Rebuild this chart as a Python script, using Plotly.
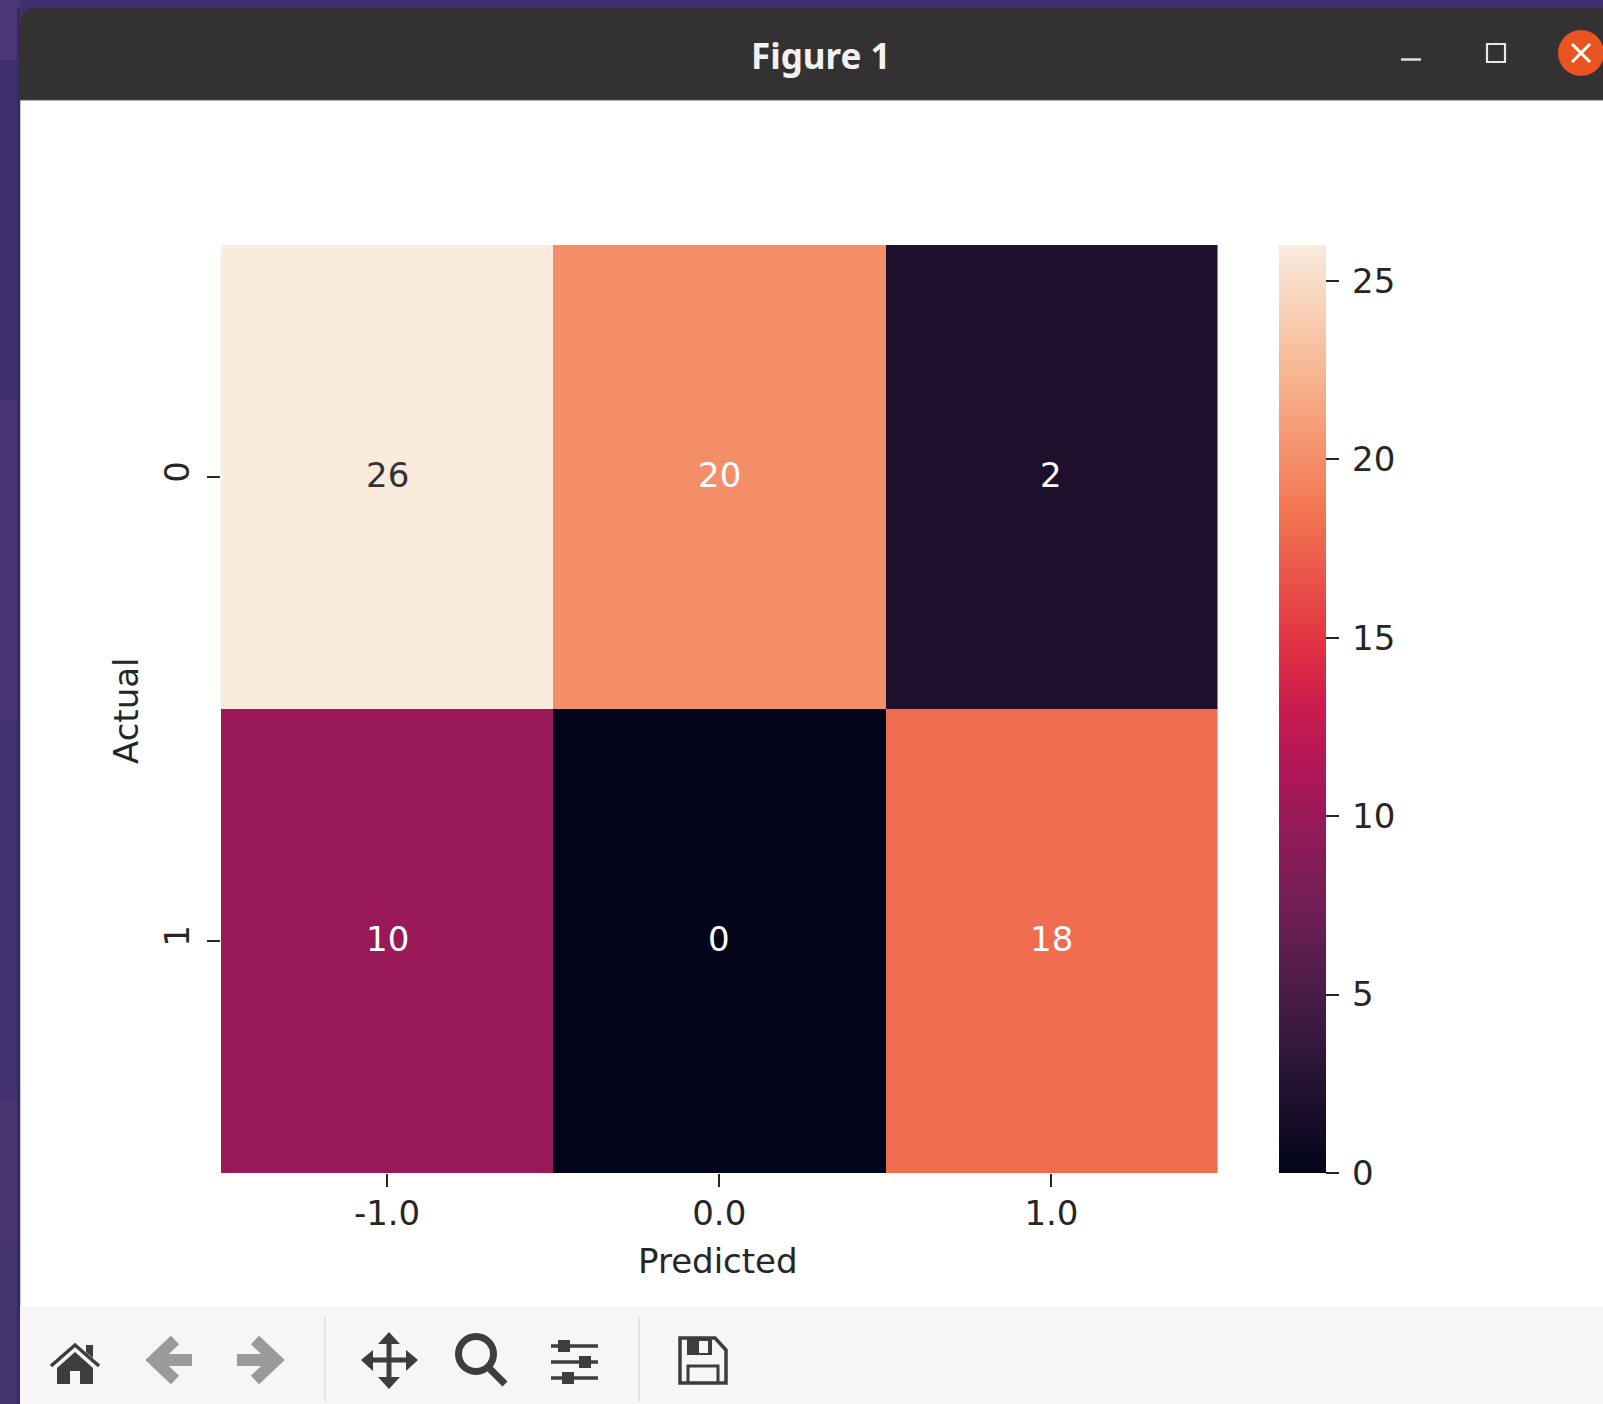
import plotly.graph_objects as go

# ---- data ----
predicted_values = [-1.0, 0.0, 1.0]
predicted_labels = ["-1.0", "0.0", "1.0"]
actual_values = [0, 1]
actual_labels = ["0", "1"]
row_actual_0 = [26, 20, 2]
row_actual_1 = [10, 0, 18]
colorbar_ticks = [0, 5, 10, 15, 20, 25]
rocket_stops = [
    [0.0, "#03051a"], [0.143, "#35193e"], [0.286, "#701f57"],
    [0.429, "#ad1759"], [0.5, "#cb1b4f"], [0.571, "#e13342"], [0.714, "#f37651"],
    [0.857, "#f6b48f"], [1.0, "#faebdd"],
]

W, H = 1603, 1404
FONT = "DejaVu Sans"
INK = "#262626"


def px(x):
    return x / W


def py(y):
    return 1 - y / H


def rect(x0, y0, x1, y1, fill, **kw):
    return dict(type="rect", xref="paper", yref="paper", x0=px(x0), x1=px(x1),
                y0=py(y0), y1=py(y1), fillcolor=fill, line_width=0, layer="below", **kw)


def path(points, fill=None, line=None, width=0, close=True):
    """points: list of (cmd, x, y) in window pixels"""
    d = ""
    for cmd, x, y in points:
        d += f"{cmd}{px(x):.5f},{py(y):.5f} "
    if close:
        d += "Z"
    s = dict(type="path", xref="paper", yref="paper", path=d, layer="above")
    s["fillcolor"] = fill if fill else "rgba(0,0,0,0)"
    s["line"] = dict(color=line if line else "rgba(0,0,0,0)", width=width)
    return s


def poly(pts, **kw):
    return path([("M" if i == 0 else "L", x, y) for i, (x, y) in enumerate(pts)], **kw)


def seg(x0, y0, x1, y1, color, width):
    return dict(type="line", xref="paper", yref="paper", x0=px(x0), x1=px(x1), y0=py(y0), y1=py(y1),
                line=dict(color=color, width=width), layer="above")


def circ(cx, cy, r, fill=None, line=None, width=0):
    return dict(type="circle", xref="paper", yref="paper", x0=px(cx - r), x1=px(cx + r),
                y0=py(cy + r), y1=py(cy - r),
                fillcolor=fill if fill else "rgba(0,0,0,0)",
                line=dict(color=line if line else "rgba(0,0,0,0)", width=width), layer="above")


def box(x0, y0, x1, y1, fill):
    return dict(type="rect", xref="paper", yref="paper", x0=px(x0), x1=px(x1), y0=py(y1), y1=py(y0),
                fillcolor=fill, line_width=0, layer="above")


DARK = "#3d3d3d"
GREY = "#9a9a9a"
SEP = "#dcdcdc"
shapes = [
    rect(0, 0, W, 8, "#40306f"),
    rect(0, 0, 20, 60, "#4a3678"),
    rect(0, 60, 20, 400, "#3e2f6d"),
    rect(0, 400, 20, 720, "#4a3577"),
    rect(0, 720, 20, 1100, "#423170"),
    rect(0, 1100, 20, 1240, "#483572"),
    rect(0, 1240, 20, H, "#43336f"),
    rect(17, 8, 20, H, "#39295f"),
    # window body
    rect(20, 100, W, 1306, "#ffffff"),
    rect(20, 1306, W, H, "#f6f6f6"),
    rect(20, 100, 21, 1306, "#c9c7d0"),
]
# title bar with rounded corner
titlebar = path([("M", 20, 100), ("L", 20, 25), ("Q", 20, 8), ("", 37, 8), ("L", W, 8), ("L", W, 100)],
                fill="#333131")
titlebar["layer"] = "below"
shapes.append(titlebar)
shapes += [
    seg(20, 100, W, 100, "#5a5a5a", 1),
    circ(1581, 53, 23, fill="#e95420"),
    seg(1572, 44, 1590, 62, "#ffffff", 3),
    seg(1572, 62, 1590, 44, "#ffffff", 3),
    seg(1401, 59.5, 1421, 59.5, "#e0e0e0", 2.5),
    dict(type="rect", xref="paper", yref="paper", x0=px(1487), x1=px(1505), y0=py(62), y1=py(44),
         line=dict(color="#e8e8e8", width=2.2), fillcolor="rgba(0,0,0,0)", layer="above"),
    # separators
    seg(325, 1317, 325, 1401, SEP, 1.5),
    seg(639, 1317, 639, 1401, SEP, 1.5),
    # home
    path([("M", 51, 1366), ("L", 75, 1345), ("L", 99, 1366)], line=DARK, width=3.5, close=False),
    poly([(57, 1368), (75, 1352), (93, 1368), (93, 1384), (80, 1384), (80, 1371), (70, 1371), (70, 1384), (57, 1384)], fill=DARK),
    poly([(86, 1345), (93, 1345), (93, 1358), (86, 1352)], fill=DARK),
    # back arrow
    path([("M", 175, 1340), ("L", 154, 1360), ("L", 175, 1380)], line=GREY, width=12, close=False),
    seg(157, 1360, 192, 1360, GREY, 12),
    # forward arrow
    path([("M", 255, 1340), ("L", 276, 1360), ("L", 255, 1380)], line=GREY, width=12, close=False),
    seg(237, 1360, 273, 1360, GREY, 12),
    # move
    seg(389, 1340, 389, 1380, DARK, 5),
    seg(367, 1360, 411, 1360, DARK, 5),
    poly([(389, 1332), (400, 1344), (378, 1344)], fill=DARK),
    poly([(389, 1389), (400, 1377), (378, 1377)], fill=DARK),
    poly([(361, 1360), (373, 1350), (373, 1371)], fill=DARK),
    poly([(418, 1360), (406, 1350), (406, 1371)], fill=DARK),
    # zoom
    circ(476, 1354, 17.5, line=DARK, width=7),
    seg(490, 1369, 505, 1384, DARK, 7),
    # sliders
    seg(551, 1346, 598, 1346, DARK, 3.5),
    seg(551, 1362, 598, 1362, DARK, 3.5),
    seg(551, 1378, 598, 1378, DARK, 3.5),
    box(558, 1340, 570, 1352, DARK),
    box(579, 1356, 591, 1368, DARK),
    box(562, 1372, 574, 1384, DARK),
    # save
    poly([(680, 1338), (715, 1338), (726, 1350), (726, 1383), (680, 1383)], line=DARK, width=3.5),
    poly([(687, 1338), (712, 1338), (712, 1355), (687, 1355)], fill=DARK),
    box(699, 1341, 708, 1353, "#f6f6f6"),
    poly([(688, 1383), (688, 1366), (718, 1366), (718, 1383)], line=DARK, width=3, close=False),
]

z = [row_actual_0, row_actual_1]

fig = go.Figure(
    go.Heatmap(
        z=z, x=predicted_values, y=actual_values,
        zmin=0, zmax=26, colorscale=rocket_stops, xgap=0, ygap=0, hoverongaps=False,
        colorbar=dict(
            x=px(1279), xanchor="left", xref="paper", thicknessmode="pixels", thickness=46.5,
            y=py(1173), yanchor="bottom", yref="paper", lenmode="fraction", len=(1173 - 245) / H,
            xpad=0, ypad=0, outlinewidth=0, borderwidth=0,
            tickmode="array", tickvals=colorbar_ticks,
            ticktext=["\u2009" + str(v) for v in colorbar_ticks],
            ticks="outside", ticklen=13, tickwidth=2, tickcolor=INK,
            tickfont=dict(family=FONT, size=34, color=INK),
        ),
    )
)

annotations = []
for yv, row in zip(actual_values, z):
    for xv, val in zip(predicted_values, row):
        annotations.append(dict(
            x=xv, y=yv, xref="x", yref="y", text=str(val), showarrow=False,
            font=dict(family=FONT, size=34, color="#333333" if val >= 24 else "#ffffff"),
            yshift=2,
        ))
annotations += [
    dict(x=px(821), y=py(55), xref="paper", yref="paper", xanchor="center", yanchor="middle",
         text="<b>Figure 1</b>", showarrow=False,
         font=dict(family="Noto Sans", size=35, color="#f2f2f2")),
    dict(x=px(718), y=py(1261), xref="paper", yref="paper", xanchor="center", yanchor="middle",
         text="Predicted", showarrow=False,
         font=dict(family=FONT, size=34, color=INK)),
    dict(x=px(126), y=py(711), xref="paper", yref="paper", xanchor="center", yanchor="middle",
         text="Actual", showarrow=False, textangle=-90,
         font=dict(family=FONT, size=34, color=INK)),
]

fig.update_layout(
    width=W, height=H, autosize=False,
    margin=dict(l=0, r=0, t=0, b=0, pad=0),
    paper_bgcolor="#40306f", plot_bgcolor="#ffffff",
    shapes=shapes, annotations=annotations, showlegend=False,
    xaxis=dict(
        domain=[px(221), px(1217.5)], range=[-1.5, 1.5], tickmode="array",
        tickvals=predicted_values, ticktext=predicted_labels, ticks="outside", ticklen=13,
        tickwidth=2, tickcolor=INK, showgrid=False, zeroline=False, showline=False,
        ticklabelstandoff=-3,
        tickfont=dict(family=FONT, size=34, color=INK),
    ),
    yaxis=dict(
        domain=[py(1173), py(245)], range=[1.5, -0.5], tickmode="array",
        tickvals=actual_values, ticktext=actual_labels, ticks="outside", ticklen=13,
        tickwidth=2, tickcolor=INK, showgrid=False, zeroline=False, showline=False, tickangle=-90,
        ticklabelstandoff=4,
        tickfont=dict(family=FONT, size=34, color=INK),
    ),
)

fig.write_html("out.html", config=dict(displayModeBar=False),
               post_script="document.body.style.margin='0';document.body.style.overflow='hidden';")
